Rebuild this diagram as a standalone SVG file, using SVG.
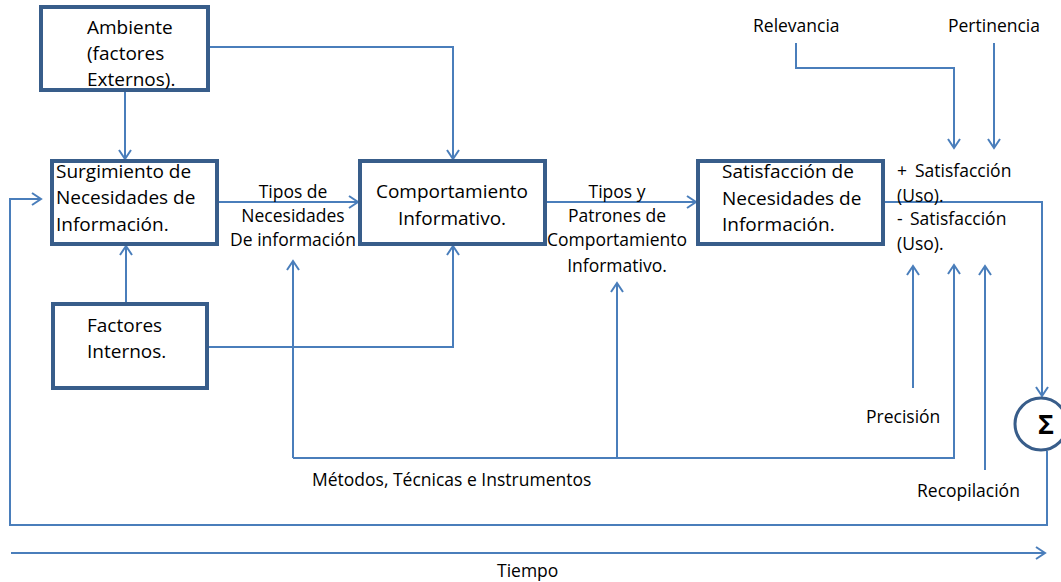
<svg xmlns="http://www.w3.org/2000/svg" width="1061" height="582" viewBox="0 0 1061 582">
<style>
.box{fill:#fff;stroke:#385d8a;stroke-width:4}
.ln{fill:none;stroke:#4a7ebb;stroke-width:2}
.ar{marker-end:url(#a)}
text{font-family:"Open Sans","Noto Sans","Liberation Sans",sans-serif;fill:#000}
.t{font-size:19px}
.s{font-size:17.5px}
.c{text-anchor:middle}
</style>
<defs>
<marker id="a" markerWidth="12" markerHeight="14" refX="10" refY="7" orient="auto" markerUnits="userSpaceOnUse">
<path d="M1,1 L10,7 L1,13" fill="none" stroke="#4a7ebb" stroke-width="2"/>
</marker>
</defs>
<rect width="1061" height="582" fill="#fff"/>
<g id="connectors">
<path class="ln ar" d="M125,90 V159"/>
<path class="ln ar" d="M208,47 H453 V159"/>
<path class="ln ar" d="M217,202 H358"/>
<path class="ln ar" d="M126,304 V246"/>
<path class="ln ar" d="M207,347 H453 V246"/>
<path class="ln ar" d="M545,202 H696"/>
<path class="ln ar" d="M293,458 V261"/>
<path class="ln ar" d="M293,458 H954 V265"/>
<path class="ln ar" d="M617,458 V283"/>
<path class="ln ar" d="M913,388 V266"/>
<path class="ln ar" d="M985,470 V266"/>
<path class="ln ar" d="M796,43 V68 H954 V148"/>
<path class="ln ar" d="M994,43 V148"/>
<path class="ln ar" d="M883,202 H1042 V396"/>
<path class="ln ar" d="M1047,451 V525 H10 V199 H41"/>
<path class="ln ar" d="M11,553 H1045"/>
</g>
<g id="ambiente">
<rect class="box" x="41" y="7" width="167" height="83"/>
<text class="t" x="87" y="34">Ambiente</text>
<text class="t" x="87" y="60">(factores</text>
<text class="t" x="87" y="86">Externos).</text>
</g>
<g id="surgimiento">
<rect class="box" x="52" y="161" width="165" height="83"/>
<text class="t" x="56" y="178">Surgimiento de</text>
<text class="t" x="56" y="204">Necesidades de</text>
<text class="t" x="56" y="231">Información.</text>
</g>
<g id="comportamiento">
<rect class="box" x="360" y="161" width="185" height="83"/>
<text class="t c" x="452" y="198">Comportamiento</text>
<text class="t c" x="452" y="225">Informativo.</text>
</g>
<g id="satisfaccion">
<rect class="box" x="698" y="161" width="185" height="83"/>
<text class="t" x="722" y="178">Satisfacción de</text>
<text class="t" x="722" y="205">Necesidades de</text>
<text class="t" x="722" y="231">Información.</text>
</g>
<g id="factores-internos">
<rect class="box" x="53" y="304" width="154" height="84"/>
<text class="t" x="87" y="332">Factores</text>
<text class="t" x="87" y="358">Internos.</text>
</g>
<g id="sigma">
<circle cx="1041" cy="424" r="26" fill="#fff" stroke="#385d8a" stroke-width="3"/>
<text x="1046" y="434" font-size="27" font-weight="bold" class="c">Σ</text>
</g>
<g id="labels">
<text class="s c" x="293" y="198">Tipos de</text>
<text class="s c" x="293" y="222">Necesidades</text>
<text class="s c" x="293" y="246">De información</text>
<text class="s c" x="617" y="198">Tipos y</text>
<text class="s c" x="617" y="222">Patrones de</text>
<text class="s c" x="617" y="246">Comportamiento</text>
<text class="s c" x="617" y="272">Informativo.</text>
<text class="s" x="897" y="177">+</text>
<text class="s" x="915" y="177">Satisfacción</text>
<text class="s" x="897" y="202">(Uso).</text>
<text class="s" x="897" y="225">-</text>
<text class="s" x="910" y="225">Satisfacción</text>
<text class="s" x="897" y="250">(Uso).</text>
<text class="s" x="753" y="32">Relevancia</text>
<text class="s" x="948" y="32">Pertinencia</text>
<text class="s" x="866" y="423">Precisión</text>
<text class="s" x="917" y="497">Recopilación</text>
<text class="s" x="312" y="486">Métodos, Técnicas e Instrumentos</text>
<text class="s" x="497" y="577">Tiempo</text>
</g>
</svg>
